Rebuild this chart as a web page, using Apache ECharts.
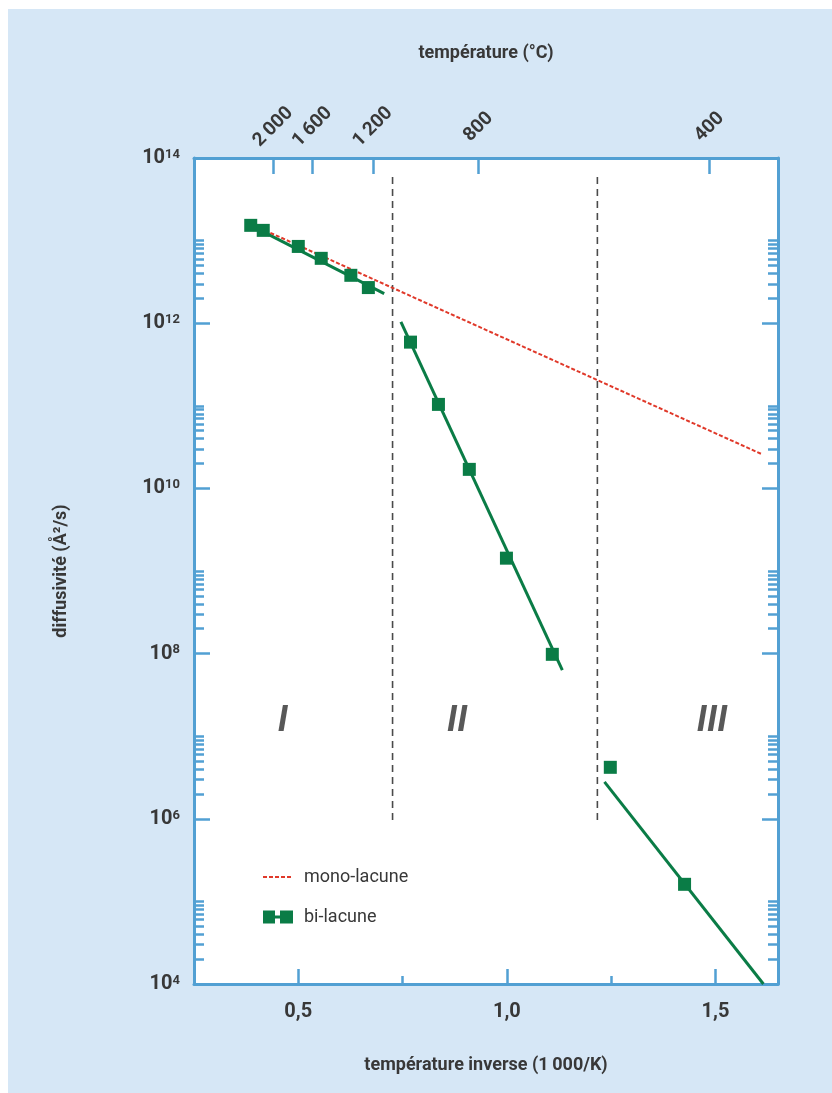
<!DOCTYPE html>
<html><head><meta charset="utf-8">
<script src="https://cdn.jsdelivr.net/npm/echarts@6/dist/echarts.min.js"></script>
<style>
html,body{margin:0;padding:0;background:#fff;}
#wrap{position:relative;width:832px;height:1093px;overflow:hidden;}
#bg{position:absolute;left:8px;top:9px;right:0;bottom:0;background:#d6e7f6;}
#chart{position:absolute;left:0;top:0;width:832px;height:1093px;}
</style></head><body>
<div id="wrap"><div id="bg"></div><div id="chart"></div></div>
<script>
// Data (x = inverse temperature, 1000/K ; D = diffusivity, Å²/s)
const biX = [0.386, 0.416, 0.500, 0.555, 0.626, 0.668, 0.769, 0.836, 0.910, 0.999, 1.109, 1.248, 1.426];
const biD = [1.53e13, 1.33e13, 8.5e12, 6.1e12, 3.8e12, 2.7e12, 5.9e11, 1.04e11, 1.70e10, 1.43e9, 9.8e7, 4.2e6, 1.61e5];
const fit1X = [0.386, 0.706];  const fit1D = [1.53e13, 2.28e12];
const fit2X = [0.746, 1.133];  const fit2D = [1.04e12, 6.3e7];
const fit3X = [1.234, 1.615];  const fit3D = [2.8e6, 1.0e4];
const monoX = [0.42, 1.611];   const monoD = [1.33e13, 2.6e10];
const boundX = [0.726, 1.217];
const boundD = [5.9e13, 8.4e5];
const regionNames = ['I', 'II', 'III'];
const regionX = [0.463, 0.881, 1.492];
const regionD = [1.5e7, 1.5e7, 1.5e7];
const xTicks = [0.5, 1.0, 1.5];
const xMinorTicks = [0.75, 1.25];
const tempC = [2000, 1600, 1200, 800, 400];
const tempLabels = ['2\u2009000', '1\u2009600', '1\u2009200', '800', '400'];
const yExponents = [4, 6, 8, 10, 12, 14];

const L = Math.log10;
const pts = (xs, ds) => xs.map((x, i) => [x, L(ds[i])]);
const tempPos = tempC.map(t => 1000 / (t + 273));
const minorY = [];
yExponents.slice(0, -1).forEach(n => { for (let k = 2; k <= 10; k++) minorY.push(n + L(k)); });

const FONT = 'Roboto, "Noto Sans", sans-serif';
const TXT = '#383838';
const BLUE = '#52a0d3';
const GREEN = '#0a7c46';
const RED = '#e0392a';

const base = { min: 0.25, max: 1.65, type: 'value', splitLine: { show: false } };
const yBase = { type: 'value', min: 4, max: 14, interval: 2, splitLine: { show: false } };

const chart = echarts.init(document.getElementById('chart'));
chart.setOption({
  animation: false,
  backgroundColor: 'transparent',
  grid: { left: 194, right: 54, top: 158, bottom: 109, show: true, backgroundColor: '#ffffff', borderWidth: 0 },
  legend: {
    orient: 'vertical', left: 257, top: 863, itemWidth: 30, itemHeight: 13, itemGap: 22,
    selectedMode: false,
    textStyle: { fontFamily: FONT, fontSize: 18, color: TXT, padding: [0, 0, 0, 6] },
    data: [
      { name: 'mono-lacune', itemStyle: { opacity: 0 } },
      { name: 'bi-lacune', icon: 'path://M0,0H12V13H0Z M12,5H17V8H12Z M17,0H30V13H17Z' }
    ]
  },
  xAxis: [
    Object.assign({}, base, {
      position: 'bottom',
      name: 'température inverse (1\u2009000/K)', nameLocation: 'middle', nameGap: 72,
      nameTextStyle: { fontFamily: FONT, fontSize: 18, fontWeight: 'bold', color: TXT },
      axisLine: { show: true, lineStyle: { color: BLUE, width: 3 } },
      axisTick: { show: true, inside: true, length: 15, customValues: xTicks, lineStyle: { color: BLUE, width: 2.5 } },
      axisLabel: { customValues: xTicks, margin: 18, fontFamily: FONT, fontSize: 20, fontWeight: 'bold', color: TXT,
        formatter: v => v.toFixed(1).replace('.', ',') }
    }),
    Object.assign({}, base, {
      position: 'bottom',
      axisLine: { show: false },
      axisTick: { show: true, inside: true, length: 8, customValues: xMinorTicks, lineStyle: { color: BLUE, width: 2.5 } },
      axisLabel: { show: false }
    }),
    Object.assign({}, base, {
      position: 'top',
      name: 'température (°C)', nameLocation: 'middle', nameGap: 96,
      nameTextStyle: { fontFamily: FONT, fontSize: 18, fontWeight: 'bold', color: TXT },
      axisLine: { show: true, lineStyle: { color: BLUE, width: 3 } },
      axisTick: { show: true, inside: true, length: 16, customValues: tempPos, lineStyle: { color: BLUE, width: 2.5 } },
      axisLabel: { customValues: tempPos, rotate: -45, align: 'center', verticalAlign: 'middle', margin: 31,
        fontFamily: FONT, fontSize: 19, fontWeight: 'bold', color: TXT,
        formatter: v => { let b = 0; tempPos.forEach((p, i) => { if (Math.abs(p - v) < Math.abs(tempPos[b] - v)) b = i; }); return tempLabels[b]; } }
    })
  ],
  yAxis: [
    Object.assign({}, yBase, {
      position: 'left',
      name: 'diffusivité (Å²/s)', nameLocation: 'middle', nameGap: 124, nameRotate: 90,
      nameTextStyle: { fontFamily: FONT, fontSize: 18, fontWeight: 'bold', color: TXT },
      axisLine: { show: true, lineStyle: { color: BLUE, width: 3 } },
      axisTick: { show: true, inside: true, length: 16, lineStyle: { color: BLUE, width: 2.5 } },
      axisLabel: {
        margin: 14,
        formatter: v => '{b|10}{s|' + v + '}',
        rich: {
          b: { fontFamily: FONT, fontSize: 20, fontWeight: 'bold', color: TXT },
          s: { fontFamily: FONT, fontSize: 13, fontWeight: 'bold', color: TXT, verticalAlign: 'top' }
        }
      }
    }),
    Object.assign({}, yBase, {
      position: 'right',
      axisLine: { show: true, lineStyle: { color: BLUE, width: 3 } },
      axisTick: { show: true, inside: true, length: 16, lineStyle: { color: BLUE, width: 2.5 } },
      axisLabel: { show: false }
    }),
    Object.assign({}, yBase, {
      position: 'left',
      axisLine: { show: false },
      axisTick: { show: true, inside: true, length: 10, customValues: minorY, lineStyle: { color: BLUE, width: 2.5 } },
      axisLabel: { show: false }
    }),
    Object.assign({}, yBase, {
      position: 'right',
      axisLine: { show: false },
      axisTick: { show: true, inside: true, length: 10, customValues: minorY, lineStyle: { color: BLUE, width: 2.5 } },
      axisLabel: { show: false }
    })
  ],
  series: [
    { type: 'line', name: 'mono-lacune', data: pts(monoX, monoD), symbol: 'none', z: 3,
      itemStyle: { color: RED }, lineStyle: { color: RED, width: 2, type: [4, 2] } },
    { type: 'line', name: 'bi-lacune', data: pts(fit1X, fit1D), symbol: 'none', z: 2,
      itemStyle: { color: GREEN }, lineStyle: { color: GREEN, width: 3 } },
    { type: 'line', name: 'bi-lacune', data: pts(fit2X, fit2D), symbol: 'none', z: 2,
      itemStyle: { color: GREEN }, lineStyle: { color: GREEN, width: 3 } },
    { type: 'line', name: 'bi-lacune', data: pts(fit3X, fit3D), symbol: 'none', z: 2,
      itemStyle: { color: GREEN }, lineStyle: { color: GREEN, width: 3 } },
    { type: 'scatter', name: 'bi-lacune', data: pts(biX, biD), symbol: 'rect', symbolSize: 13, z: 5,
      itemStyle: { color: GREEN, opacity: 1 } },
    ...boundX.map(bx => ({
      type: 'line', name: 'boundary', data: boundD.map(d => [bx, L(d)]), symbol: 'none', silent: true, z: 1,
      lineStyle: { color: '#4a4a4a', width: 1.6, type: [7, 5] }
    })),
    { type: 'scatter', name: 'regions', symbolSize: 0, silent: true, z: 4,
      data: regionNames.map((n, i) => ({ name: n, value: [regionX[i], L(regionD[i])] })),
      label: { show: true, position: 'inside', formatter: p => p.name, fontFamily: FONT, fontSize: 36,
        fontStyle: 'italic', fontWeight: 'bold', color: '#2e2e2e' } }
  ]
});
</script>
</body></html>
